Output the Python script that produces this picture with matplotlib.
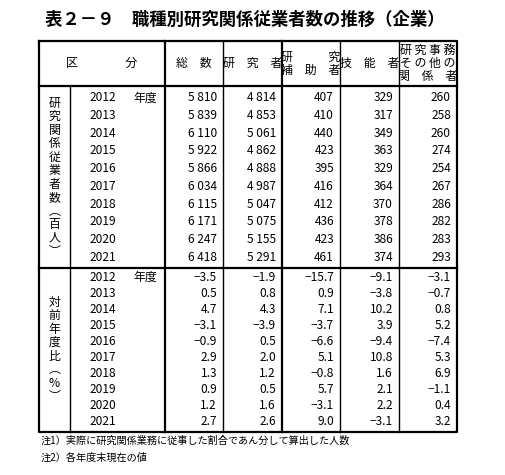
import matplotlib
matplotlib.use("Agg")
import matplotlib.pyplot as plt

plt.rcParams["font.family"] = ["Noto Sans CJK JP", "DejaVu Sans"]

years = ["2012", "2013", "2014", "2015", "2016", "2017", "2018", "2019", "2020", "2021"]
headers = ["総　数", "研　究　者", "研　　　究\n補　助　者", "技　能　者", "研 究 事 務\nそ の 他 の\n関　係　者"]

total = ["5 810", "5 839", "6 110", "5 922", "5 866", "6 034", "6 115", "6 171", "6 247", "6 418"]
researchers = ["4 814", "4 853", "5 061", "4 862", "4 888", "4 987", "5 047", "5 075", "5 155", "5 291"]
assistants = [407, 410, 440, 423, 395, 416, 412, 436, 423, 461]
technicians = [329, 317, 349, 363, 329, 364, 370, 378, 386, 374]
others = [260, 258, 260, 274, 254, 267, 286, 282, 283, 293]

chg_total = [-3.5, 0.5, 4.7, -3.1, -0.9, 2.9, 1.3, 0.9, 1.2, 2.7]
chg_researchers = [-1.9, 0.8, 4.3, -3.9, 0.5, 2.0, 1.2, 0.5, 1.6, 2.6]
chg_assistants = [-15.7, 0.9, 7.1, -3.7, -6.6, 5.1, -0.8, 5.7, -3.1, 9.0]
chg_technicians = [-9.1, -3.8, 10.2, 3.9, -9.4, 10.8, 1.6, 2.1, 2.2, -3.1]
chg_others = [-3.1, -0.7, 0.8, 5.2, -7.4, 5.3, 6.9, -1.1, 0.4, 3.2]

title = "表２－９　職種別研究関係従業者数の推移（企業）"
notes = ["注1）実際に研究関係業務に従事した割合であん分して算出した人数", "注2）各年度末現在の値"]

W, H = 505, 475
fig = plt.figure(figsize=(W / 100, H / 100), dpi=100)
ax = fig.add_axes([0, 0, 1, 1])
ax.set_xlim(0, W)
ax.set_ylim(H, 0)
ax.axis("off")

cols = [39, 70, 165, 223, 282, 340, 399, 457]
top, head_bot, mid, bot = 41, 86, 268, 432
fs = 8.6

ax.text(45, 20, title, fontsize=12.5, fontweight="bold", va="center", ha="left")

# frame
lw_o, lw_i = 1.6, 1.0
ax.plot([cols[0], cols[-1], cols[-1], cols[0], cols[0]], [top, top, bot, bot, top], color="black", lw=lw_o)
ax.plot([cols[0], cols[-1]], [head_bot, head_bot], color="black", lw=lw_o)
ax.plot([cols[0], cols[-1]], [mid, mid], color="black", lw=lw_o)
ax.plot([cols[1], cols[1]], [head_bot, bot], color="black", lw=lw_i)
for x in cols[2:-1]:
    ax.plot([x, x], [top, bot], color="black", lw=lw_o if x in (cols[2], cols[4]) else lw_i)

# header
hy = (top + head_bot) / 2
ax.text((cols[0] + cols[2]) / 2, hy, "区　　　　分", fontsize=fs, ha="center", va="center")
for i, h in enumerate(headers):
    ax.text((cols[2 + i] + cols[3 + i]) / 2, hy, h, fontsize=fs, ha="center", va="center", linespacing=1.0)

def draw_group(y0, y1, label, columns, fmt):
    step = (y1 - y0) / len(years)
    for r, yr in enumerate(years):
        y = y0 + step * (r + 0.5)
        ax.text(103, y, yr, fontsize=fs, ha="center", va="center")
        if r == 0:
            ax.text(145, y, "年度", fontsize=fs, ha="center", va="center")
        for c, vals in enumerate(columns):
            ax.text(cols[3 + c] - 6, y, fmt(vals[r]), fontsize=fs, ha="right", va="center")
    ax.text((cols[0] + cols[1]) / 2, (y0 + y1) / 2, "\n".join(label), fontsize=fs,
            ha="center", va="center", linespacing=1.05)

draw_group(head_bot + 3, mid - 2, "研究関係従業者数︵百人︶",
           [total, researchers, assistants, technicians, others], lambda v: str(v).replace("-", "−"))
draw_group(mid + 1, bot - 2, "対前年度比︵%︶",
           [chg_total, chg_researchers, chg_assistants, chg_technicians, chg_others],
           lambda v: f"{v:.1f}".replace("-", "−"))

for i, n in enumerate(notes):
    ax.text(41, 441 + 17 * i, n, fontsize=7.3, ha="left", va="center")

fig.savefig("out.png", dpi=100)
